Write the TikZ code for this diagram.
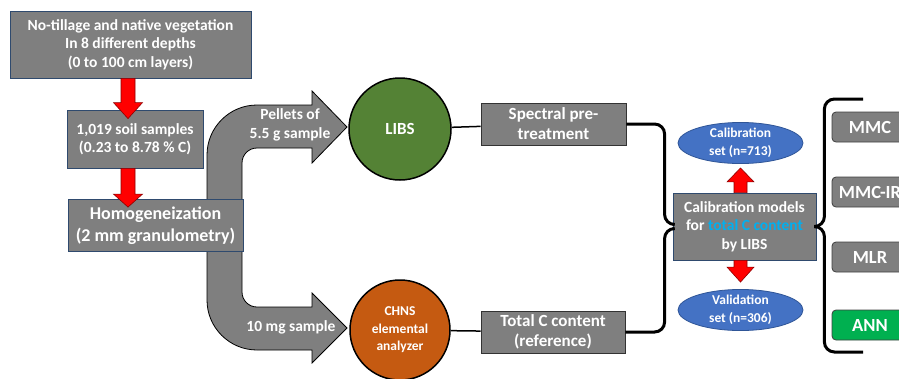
\documentclass[tikz,border=0pt]{standalone}
\usepackage{fontspec}
\setmainfont{Carlito}
\usepackage{xcolor}
\usetikzlibrary{calc,positioning,shapes.geometric}

\definecolor{boxgray}{HTML}{7F7F7F}
\definecolor{navyline}{HTML}{2F4A6E}
\definecolor{libsgreen}{HTML}{548235}
\definecolor{chnsorange}{HTML}{C55A11}
\definecolor{ellblue}{HTML}{4472C4}
\definecolor{ellline}{HTML}{2F5597}
\definecolor{anngreen}{HTML}{00B050}
\definecolor{textcyan}{HTML}{00B0F0}
\definecolor{arrowred}{HTML}{FF0000}

\newcommand{\boxfont}{\fontsize{15.5}{18.5}\selectfont\bfseries}
\newcommand{\homfont}{\fontsize{18}{22.5}\selectfont\bfseries}
\newcommand{\midfont}{\fontsize{17}{20}\selectfont\bfseries}
\newcommand{\smallfont}{\fontsize{13.5}{17.5}\selectfont\bfseries}
\newcommand{\modfont}{\fontsize{18.5}{22}\selectfont\bfseries}

% fat red arrow: start, tip, shaft half width, head half width, head length
\newcommand{\blockarrow}[5]{%
  \coordinate (hb) at ($(#2)!#5!(#1)$);
  \filldraw[redarrow] ($(#1)!#3!90:(#2)$) -- ($(hb)!#3!90:(#2)$) -- ($(hb)!#4!90:(#2)$) -- (#2)
    -- ($(hb)!#4!-90:(#2)$) -- ($(hb)!#3!-90:(#2)$) -- ($(#1)!#3!-90:(#2)$) -- cycle;}

\tikzset{
  every node/.style={text=white, align=center, inner sep=0pt},
  graybox/.style={draw=navyline, fill=boxgray, line width=0.8pt},
  stepbox/.style={draw=black!80, fill=boxgray, line width=0.8pt},
  modelbox/.style={draw=black!75, fill=boxgray, line width=0.8pt, rounded corners=4pt,
    minimum width=76pt, minimum height=30pt, font=\modfont},
  setell/.style={ellipse, draw=ellline, fill=ellblue, line width=0.8pt,
    minimum width=125pt, minimum height=40pt, font=\smallfont},
  grayarrow/.style={fill=boxgray, draw=black, line width=0.8pt},
  redarrow/.style={fill=arrowred, draw=red!55!black, line width=0.6pt},
  brace/.style={draw=black, line width=3pt, rounded corners=10pt},
  link/.style={draw=black, line width=1.5pt}
}

\begin{document}
\begin{tikzpicture}[x=1pt,y=-1pt]
\useasboundingbox (0,0) rectangle (899,378);
\clip (0,0) rectangle (899,378);

% bent gray arrow, behind the homogeneization box
\filldraw[grayarrow] (207,155) .. controls (207,127.4) and (229.4,105) .. (257,105) -- (312,105)
  -- (312,91) -- (347,127) -- (312,163) -- (312,148) -- (257,148)
  .. controls (248.7,148) and (242,154.7) .. (242,163) -- (242,292)
  .. controls (242,300.3) and (248.7,307) .. (257,307) -- (312,307)
  -- (312,293) -- (347,328) -- (312,363) -- (312,350) -- (257,350)
  .. controls (229.4,350) and (207,327.6) .. (207,300) -- cycle;

\node[font=\boxfont] (pellets) at (290,125) {Pellets of\\5.5 g sample};
\node[font=\boxfont] (tenmg) at (291,327) {10 mg sample};

% left column
\node[graybox, minimum width=241pt, minimum height=67pt, font=\boxfont] (field) at (130.5,44.5)
  {No-tillage and native vegetation\\In 8 different depths\\(0 to 100 cm layers)};
\node[graybox, minimum width=136pt, minimum height=58pt, font=\boxfont] (soil) at (135,139)
  {1,019 soil samples\\(0.23 to 8.78 \% C)};
\node[graybox, minimum width=175pt, minimum height=52pt, font=\homfont] (homog) at (155.5,225.5)
  {Homogeneization\\(2 mm granulometry)};

\blockarrow{$(field.south)+(-2.5,0)$}{$(soil.north)+(-7,9)$}{7pt}{14.5pt}{16pt}
\blockarrow{$(soil.south)+(-7,0)$}{$(homog.north)+(-27.5,8)$}{7pt}{14.5pt}{13pt}

% analyses
\node[circle, draw=black, line width=1.5pt, fill=libsgreen, minimum size=102pt, font=\midfont]
  (libs) at (400,129) {LIBS};
\node[circle, draw=black, line width=1.5pt, fill=chnsorange, minimum size=100pt, font=\smallfont]
  (chns) at (400,330) {CHNS\\elemental\\analyzer};

\node[stepbox, minimum width=145pt, minimum height=42pt, font=\midfont] (spec) at (553.5,124)
  {Spectral pre-\\treatment};
\node[stepbox, minimum width=144pt, minimum height=42pt, font=\midfont] (totc) at (553,332)
  {Total C content\\(reference)};

\draw[link] (libs) -- (spec);
\draw[link] (chns) -- (totc);

% calibration
\node[graybox, minimum width=143pt, minimum height=67pt, font=\boxfont] (calib) at (744.5,226.5)
  {Calibration models\\for \textcolor{textcyan}{total C content}\\by LIBS};
\node[setell] (calset) at (740.5,143) {Calibration\\set (n=713)};
\node[setell] (valset) at (740.5,310) {Validation\\set (n=306)};

\blockarrow{$(calib.north)+(-4,0)$}{$(calset.south)+(0,4)$}{6.5pt}{13.5pt}{14pt}
\blockarrow{$(calib.south)+(-4,0)$}{$(valset.north)+(0,-7)$}{6.5pt}{13.5pt}{15pt}

\draw[brace] (spec.east) -| ($(calib.west)+(-8,-2)$) -- ($(calib.west)+(0,-2)$);
\draw[brace] (totc.east) -| ($(calib.west)+(-8,2)$) -- ($(calib.west)+(0,2)$);

% models
\node[modelbox] (mmc) at (870,127) {MMC};
\node[modelbox] (mmcir) at (870,192) {MMC-IR};
\node[modelbox] (mlr) at (870,257) {MLR};
\node[modelbox, fill=anngreen] (ann) at (870,325) {ANN};

\coordinate (modtop) at (863,99);
\coordinate (modbot) at (863,352);
\draw[brace] (calib.east) -- ++(8,0) |- (modtop);
\draw[brace] (calib.east) -- ++(8,0) |- (modbot);
\end{tikzpicture}
\end{document}
